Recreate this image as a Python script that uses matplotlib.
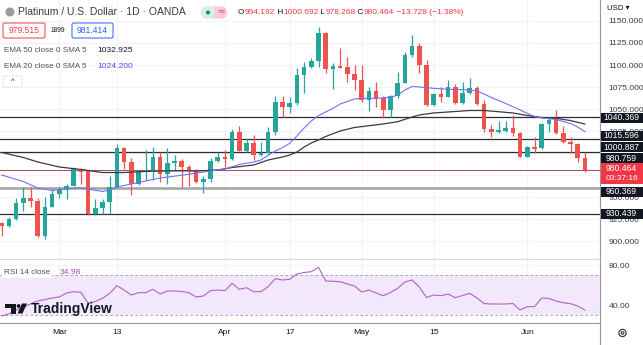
import matplotlib

matplotlib.use("Agg")

import matplotlib.pyplot as plt
import matplotlib.transforms as mtransforms
from matplotlib.lines import Line2D
from matplotlib.patches import Circle, FancyBboxPatch, Polygon, Rectangle
import numpy as np

plt.rcParams["font.family"] = ["Liberation Sans", "DejaVu Sans"]

W, H = 643, 345

# daily candles, index 0 = 17 Feb, last = 13 Jun (Good Friday skipped)
opens = [920.2, 917.4, 925.0, 942.8, 949.2, 945.8, 906.0, 939.0, 953.4, 958.0,
         962.5, 981.8, 979.5, 930.7, 937.2, 944.0, 961.7, 1005.3, 989.4, 964.8,
         978.4, 980.5, 995.1, 975.8, 989.0, 990.9, 984.4, 979.9, 967.4, 970.5,
         991.3, 995.1, 992.8, 1023.5, 1002.6, 1011.7, 997.7, 999.7, 1023.5, 1058.3,
         1052.6, 1056.5, 1088.6, 1098.0, 1104.9, 1136.7, 1095.1, 1098.9, 1097.4, 1089.8,
         1083.0, 1060.2, 1070.5, 1062.2, 1048.9, 1064.8, 1079.9, 1111.4, 1121.6, 1100.0,
         1054.5, 1067.0, 1064.0, 1075.3, 1056.5, 1067.8, 1073.5, 1055.7, 1027.3, 1023.5,
         1025.0, 1028.8, 1023.1, 995.8, 1007.2, 1005.3, 1032.6, 1037.5, 1022.4, 1012.5,
         1010.2, 994.192]
highs = [921.6, 927.0, 948.5, 961.0, 961.0, 949.2, 949.6, 958.0, 961.0, 964.8,
         984.4, 983.0, 980.7, 947.4, 947.4, 974.2, 1010.2, 1006.5, 994.7, 980.7,
         1003.4, 1007.2, 1001.5, 1005.3, 997.7, 993.2, 985.8, 981.8, 973.9, 994.3,
         1000.3, 1003.4, 1026.9, 1031.0, 1016.7, 1020.5, 1012.8, 1029.2, 1064.8, 1064.8,
         1064.0, 1096.3, 1103.0, 1107.6, 1143.5, 1137.5, 1102.0, 1119.0, 1109.4, 1100.0,
         1100.0, 1075.3, 1081.0, 1064.8, 1065.9, 1092.4, 1115.1, 1134.1, 1125.3, 1105.7,
         1068.2, 1074.7, 1083.0, 1078.4, 1081.0, 1084.9, 1076.1, 1060.2, 1031.8, 1036.4,
         1036.4, 1043.2, 1023.9, 1008.0, 1017.8, 1034.1, 1041.3, 1048.9, 1030.7, 1017.8,
         1011.7, 1000.692]
lows = [905.7, 916.0, 924.0, 934.4, 939.0, 904.2, 901.9, 938.6, 949.2, 947.4,
        962.0, 964.8, 929.2, 929.5, 930.7, 930.7, 960.2, 981.5, 952.3, 963.6,
        969.3, 969.3, 967.0, 964.5, 980.7, 961.0, 962.0, 965.9, 954.2, 966.7,
        990.0, 984.4, 992.0, 1002.3, 1001.5, 992.0, 996.6, 998.9, 1020.5, 1041.3,
        1045.8, 1054.5, 1067.8, 1096.6, 1098.0, 1090.6, 1072.7, 1096.3, 1081.0, 1071.6,
        1058.3, 1048.0, 1051.9, 1039.4, 1041.3, 1062.5, 1079.5, 1109.4, 1091.2, 1053.4,
        1053.4, 1058.3, 1064.0, 1055.7, 1055.3, 1067.0, 1054.5, 1024.2, 1018.5, 1023.1,
        1024.2, 1019.3, 995.1, 995.1, 1000.3, 1004.9, 1024.2, 1021.6, 1011.0, 999.7,
        990.0, 978.268]
closes = [917.4, 925.0, 942.8, 949.2, 945.8, 906.0, 939.0, 953.4, 958.0, 962.5,
          982.6, 978.4, 930.7, 937.2, 944.0, 961.7, 1005.3, 989.4, 964.8, 978.0,
          980.7, 995.1, 975.8, 989.0, 990.9, 984.4, 979.9, 967.4, 970.5, 991.3,
          995.1, 993.5, 1023.5, 1002.6, 1011.7, 997.7, 999.7, 1023.5, 1058.3, 1052.6,
          1056.5, 1088.6, 1098.0, 1104.9, 1136.7, 1095.1, 1098.9, 1097.0, 1089.8, 1083.0,
          1060.2, 1070.5, 1061.4, 1048.9, 1064.8, 1079.9, 1111.4, 1121.6, 1100.0, 1054.5,
          1067.0, 1064.0, 1075.3, 1056.5, 1067.8, 1073.5, 1055.7, 1026.9, 1023.5, 1026.1,
          1028.8, 1023.1, 995.8, 1006.5, 1004.9, 1032.6, 1037.5, 1022.4, 1012.5, 1010.2,
          994.2, 980.464]

ema20_idx = [0, 3, 5, 7, 9, 11, 12, 14, 15, 16, 18, 20, 22, 25, 28, 31, 33, 35, 36, 37,
             38, 39, 40, 41, 42, 43, 44, 45, 46, 47, 48, 49, 50, 52, 54, 55, 56, 57, 58, 60,
             62, 65, 66, 67, 68, 70, 72, 73, 74, 75, 77, 79, 80, 81]
ema20_val = [975.0, 967.6, 960.2, 957.4, 959.4, 960.6, 959.1, 956.2, 958.0, 961.4,
             964.8, 968.2, 971.6, 974.7, 978.4, 981.8, 986.9, 989.8, 992.0, 997.2,
             1002.3, 1006.2, 1011.0, 1019.3, 1028.4, 1036.4, 1042.6, 1046.6, 1050.6, 1055.7,
             1058.5, 1061.4, 1062.2, 1062.2, 1063.3, 1065.9, 1071.6, 1075.6, 1075.0, 1073.5,
             1072.4, 1071.6, 1070.5, 1067.0, 1063.1, 1056.3, 1048.9, 1045.1, 1041.5, 1039.8,
             1038.1, 1033.5, 1029.5, 1024.2]
ema50_idx = [0, 3, 5, 8, 11, 14, 17, 19, 22, 25, 27, 30, 32, 35, 37, 39, 40, 41, 42, 43,
             44, 45, 47, 49, 51, 53, 55, 57, 58, 60, 62, 65, 67, 69, 71, 73, 75, 77, 79, 81]
ema50_val = [1000.6, 994.9, 989.8, 984.1, 981.3, 977.8, 977.8, 978.75, 979.5, 979.8,
             979.5, 980.7, 983.5, 986.4, 992.0, 995.5, 997.7, 1001.1, 1006.8, 1011.4,
             1014.8, 1018.75, 1025.0, 1029.0, 1031.0, 1033.0, 1035.6, 1040.9, 1043.2, 1045.5,
             1046.6, 1048.3, 1048.3, 1046.9, 1045.5, 1042.6, 1040.3, 1039.4, 1036.9, 1032.9]

rsi = [29, 31, 35, 38, 41, 44, 45.5, 47, 48, 52,
       53.3, 52.7, 42, 43.5, 46.7, 51.7, 59.3, 55, 50, 52.3,
       52.3, 55.7, 51, 54, 54, 53.5, 52.3, 48, 49, 54.3,
       55, 54.3, 61.7, 55.7, 57.3, 53.3, 53.3, 58.3, 66.3, 65,
       65.7, 71, 72.5, 73.3, 77.7, 64, 63.7, 63.3, 61, 59,
       53, 55, 52, 49.3, 52.5, 56.7, 63, 65, 58, 47.5,
       50, 49.3, 51, 47.3, 49.5, 51.7, 47, 41.5, 41, 41,
       41, 41.5, 35, 38.3, 38.3, 47, 46.5, 44, 42.3, 41.3,
       39, 34.98]

tick_idx = [8, 16, 31, 40, 50, 60, 73]
tick_text = ["Mar", "13", "Apr", "17", "May", "15", "Jun"]
price_ticks = [900, 925, 950, 975, 1000, 1025, 1050, 1075, 1100, 1125, 1150]
hidden_ticks = [975, 1000]  # fully covered by the level labels in the original

levels = [1040.369, 1015.596, 1000.887, 980.759, 960.369, 930.439]
last_price = 980.464
countdown = "03:37:16"

UP, DN = "#26a69a", "#ef5350"
RED = "#f23645"
TXT = "#131722"
GRID = "#f0f3fa"

fig = plt.figure(figsize=(W / 100, H / 100), dpi=100)
fig.patch.set_facecolor("white")
ax = fig.add_axes([0, 85 / H, 600 / W, 260 / H])
rx = fig.add_axes([0, 22 / H, 600 / W, 63 / H])

xlim = (-1.7 / 7.2, 598.3 / 7.2)
ax.set_xlim(*xlim)
ax.set_ylim(1150 - 239 / 0.88, 1150 + 21 / 0.88)
rx.set_xlim(*xlim)
rx.set_ylim(22, 85)


def py2price(py):
    return 1150 - (py - 21) / 0.88


# --- main pane ---
for a in (ax, rx):
    a.set_xticks(tick_idx)
    a.grid(True, color=GRID, lw=0.8, zorder=0)
    a.set_axisbelow(True)
    a.tick_params(length=0, labelsize=6.1, colors=TXT)
    for s in ("top", "left"):
        a.spines[s].set_visible(False)
    a.spines["right"].set_color("#9598a1")
    a.spines["right"].set_linewidth(0.8)
    a.yaxis.tick_right()

ax.set_xticklabels([])
ax.set_yticks(price_ticks)
ax.set_yticklabels(["" if v in hidden_ticks else f"{v:.3f}" for v in price_ticks])
ax.tick_params(axis="y", pad=6, labelcolor="#3a3d47")
ax.spines["bottom"].set_color("#d1d4dc")
ax.spines["bottom"].set_linewidth(1.2)

x = np.arange(len(opens))
o, hi, lo, c = map(np.asarray, (opens, highs, lows, closes))
cols = np.where(c >= o, UP, DN)
ax.vlines(x, lo, hi, colors=cols, lw=0.9, zorder=3)
body = np.maximum(np.abs(c - o), 1.0)
ax.bar(x, body, bottom=np.minimum(o, c), width=0.64, color=cols, lw=0, zorder=4)

ax.plot(ema50_idx, ema50_val, color="#3b3b3b", lw=0.9, zorder=5)
ax.plot(ema20_idx, ema20_val, color="#7272f4", lw=0.8, zorder=5)

for lv in levels:
    if lv == 960.369:
        ax.axhline(lv, color="#a3a3a3", lw=1.8, zorder=2)
    elif lv == 980.759:
        ax.axhline(lv, color="#2a2e39", lw=0.5, zorder=2)
    else:
        ax.axhline(lv, color="#2a2e39", lw=0.9, zorder=2)
ax.axhline(last_price, color=RED, lw=0.8, ls=(0, (1, 1.5)), zorder=2)

# price-scale labels (stacked so they do not overlap)
btr = mtransforms.blended_transform_factory(ax.transAxes, ax.transData)
label_py = [117.5, 136, 147, 158, 191.7, 214]
for lv, lp in zip(levels, label_py):
    yc = py2price(lp)
    ax.add_patch(Rectangle((1.001, yc - 5 / 0.88), 0.07, 10 / 0.88, transform=btr,
                           facecolor="#131722", edgecolor="none", clip_on=False, zorder=10))
    ax.text(1.0 + 21.5 / 600, yc, f"{lv:.3f}", transform=btr, ha="center", va="center",
            color="white", fontsize=6.2, clip_on=False, zorder=11)
ax.add_patch(Rectangle((1.001, py2price(184)), 0.07, 21 / 0.88, transform=btr,
                       facecolor=RED, edgecolor="none", clip_on=False, zorder=10))
ax.text(1.0 + 21.5 / 600, py2price(168.7), f"{last_price:.3f}", transform=btr, ha="center",
        va="center", color="white", fontsize=6.2, clip_on=False, zorder=11)
ax.text(1.0 + 21.5 / 600, py2price(179), countdown, transform=btr, ha="center",
        va="center", color="white", fontsize=6.0, clip_on=False, zorder=11)

# --- RSI pane ---
rx.axhspan(30, 70, color="#f3e7fb", zorder=0.5, lw=0)
rx.axhline(70, color="#9598a1", lw=0.6, ls=(0, (3, 3)), zorder=1)
rx.axhline(30, color="#9598a1", lw=0.6, ls=(0, (3, 3)), zorder=1)
rx.plot(x, rsi, color="#b062c8", lw=0.8, zorder=3)
rx.set_yticks([40, 80])
rx.set_yticklabels(["40.00", "80.00"])
rx.tick_params(axis="y", pad=6, labelcolor="#3a3d47")
rx.tick_params(axis="x", pad=4)
rx.set_xticklabels(tick_text)
rx.spines["bottom"].set_color("#9598a1")
rx.spines["bottom"].set_linewidth(0.8)
fig.add_artist(Line2D([600 / W, 600 / W], [0, 22 / H], transform=fig.transFigure,
                      color="#9598a1", lw=0.8))

# --- header / legends ---
ID = mtransforms.IdentityTransform()


def ftext(px, py, s, **kw):
    kw.setdefault("va", "center")
    return fig.text(px / W, 1 - py / H, s, **kw)


def seq_text(px, py, parts, size):
    r = fig.canvas.get_renderer()
    cur = px
    for s, col in parts:
        t = ftext(cur, py, s, color=col, fontsize=size)
        cur = t.get_window_extent(r).x1
    return cur


fig.add_artist(Circle((10, H - 12), 4.5, transform=ID, facecolor="#9a9a9a", edgecolor="none"))
ftext(18, 12, "Platinum / U.S. Dollar · 1D · OANDA", fontsize=7.5, color="#3a3d47")

fig.add_artist(FancyBboxPatch((201, H - 18.5), 26, 12, boxstyle="round,pad=0,rounding_size=6",
                              transform=ID, facecolor="#f9c9d4", edgecolor="none"))
fig.add_artist(FancyBboxPatch((201, H - 18.5), 14, 12, boxstyle="round,pad=0,rounding_size=6",
                              transform=ID, facecolor="#d6efe9", edgecolor="none"))
fig.add_artist(Rectangle((209, H - 18.5), 5, 12, transform=ID, facecolor="#d6efe9",
                         edgecolor="none"))
fig.add_artist(Circle((208, H - 12.5), 2.0, transform=ID, facecolor="#0d8a6e", edgecolor="none"))
ftext(221, 12, "≈", fontsize=6.5, color="#e0466a", ha="center", family="DejaVu Sans")

seq_text(238, 12, [("O", TXT), ("994.192", RED), (" H", TXT), ("1000.692", RED),
                   (" L", TXT), ("978.268", RED), (" C", TXT), ("980.464", RED),
                   (" −13.728 (−1.38%)", RED)], 6.05)

fig.add_artist(FancyBboxPatch((3, H - 38), 42, 15, boxstyle="round,pad=0,rounding_size=1.5",
                              transform=ID, facecolor="white", edgecolor=RED, lw=0.7))
ftext(24, 30.5, "979.515", fontsize=6.2, color=RED, ha="center")
ftext(58, 30.5, "1899", fontsize=4.8, color=TXT, ha="center")
fig.add_artist(FancyBboxPatch((72, H - 38), 41, 15, boxstyle="round,pad=0,rounding_size=1.5",
                              transform=ID, facecolor="white", edgecolor="#2962ff", lw=0.7))
ftext(92.5, 30.5, "981.414", fontsize=6.2, color="#2962ff", ha="center")

ftext(4, 50.7, "EMA 50 close 0 SMA 5", fontsize=5.9, color="#50535e")
ftext(97, 50.7, "1032.925", fontsize=6.1, color=TXT)
ftext(4, 66.7, "EMA 20 close 0 SMA 5", fontsize=5.9, color="#50535e")
ftext(97, 66.7, "1024.200", fontsize=6.1, color="#4a4cf0")
fig.add_artist(FancyBboxPatch((3, H - 87), 19, 11, boxstyle="round,pad=0,rounding_size=1.5",
                              transform=ID, facecolor="white", edgecolor="#e0e3eb", lw=0.6))
ftext(12.5, 81.5, "^", fontsize=5.5, color=TXT, ha="center")

ftext(4, 272.7, "RSI 14 close", fontsize=5.9, color="#50535e",
      bbox=dict(boxstyle="square,pad=0.2", fc="white", ec="none"))
ftext(60, 272.7, "34.98", fontsize=6.1, color="#ab47bc")

ftext(607, 8.5, "USD ▾", fontsize=5.6, color=TXT)

# TradingView watermark
fig.add_artist(Rectangle((5, H - 307.5), 11, 4, transform=ID, facecolor="#131722", edgecolor="none"))
fig.add_artist(Rectangle((11, H - 313.5), 5, 10, transform=ID, facecolor="#131722", edgecolor="none"))
fig.add_artist(Circle((18.6, H - 306), 1.9, transform=ID, facecolor="#131722", edgecolor="none"))
fig.add_artist(Polygon([(22, H - 303.5), (27, H - 303.5), (22.5, H - 313.5), (17.5, H - 313.5)],
                       transform=ID, facecolor="#131722", edgecolor="none"))
ftext(31, 309.5, "TradingView", fontsize=10, fontweight="bold", color="#131722")

# gear icon
fig.add_artist(Circle((622.5, H - 333), 3.6, transform=ID, facecolor="none",
                      edgecolor="#3a3d47", lw=0.9))
fig.add_artist(Circle((622.5, H - 333), 1.3, transform=ID, facecolor="none",
                      edgecolor="#3a3d47", lw=0.8))

fig.savefig("out.png", dpi=100)
